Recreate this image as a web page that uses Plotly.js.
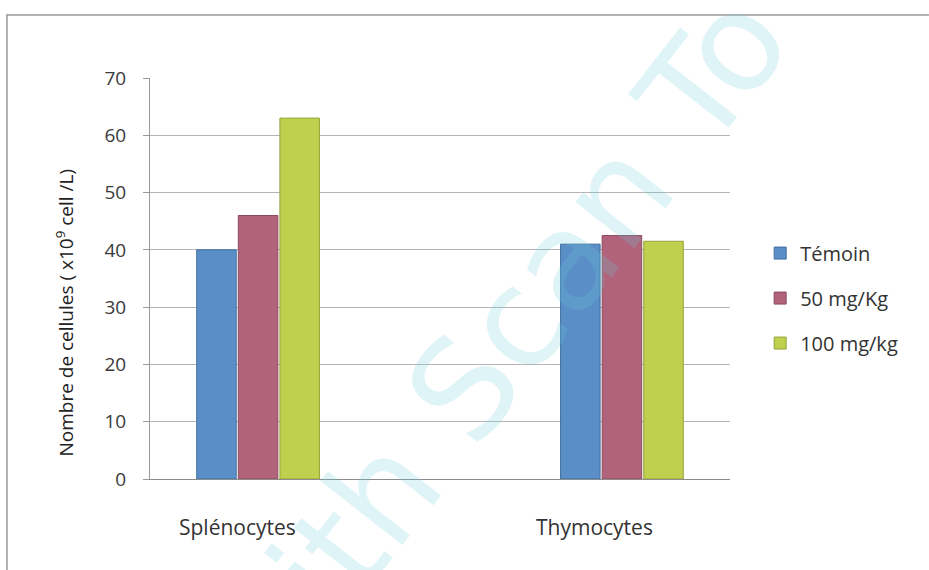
<!DOCTYPE html>
<html>
<head>
<meta charset="utf-8">
<script src="https://cdn.plot.ly/plotly-3.0.1.min.js"></script>
<style>html,body{margin:0;padding:0;background:#fff;}#chart{width:929px;height:570px;}</style>
</head>
<body>
<div id="chart"></div>
<script>
var categories = ["Splénocytes", "Thymocytes"];
var seriesNames = ["Témoin", "50 mg/Kg", "100 mg/kg"];
var temoin = [40, 41];
var dose50 = [46, 42.5];
var dose100 = [63, 41.5];
var yTicks = [0, 10, 20, 30, 40, 50, 60, 70];
var yTitle = "Nombre de cellules ( x10<sup>9</sup> cell /L)";
var watermark = "with Scan To";

var colors = ["#5a8ec6", "#b0637a", "#bfcf4e"];
var lineColors = ["#3f6f9f", "#8c4a5c", "#97a33a"];
var values = [temoin, dose50, dose100];
var FONT = "'Open Sans', Lato, sans-serif";

var traces = values.map(function(v, i){
  return {
    type: "bar",
    name: seriesNames[i],
    x: categories,
    y: v,
    legendgroup: "g" + i,
    marker: {color: colors[i], line: {color: lineColors[i], width: 1}},
    hoverinfo: "x+y+name"
  };
});

var annotations = categories.map(function(c, i){
  return {
    x: c, y: 0, xref: "x", yref: "y",
    text: c, showarrow: false,
    xanchor: "center", yanchor: "middle",
    xshift: i === 0 ? -21 : -27, yshift: -48,
    font: {family: FONT, size: 21, color: "#333"}
  };
});
annotations.push({
  x: -0.1466, y: 0.415, xref: "paper", yref: "paper",
  xanchor: "center", yanchor: "middle",
  text: yTitle, textangle: -90, showarrow: false,
  font: {family: FONT, size: 19, color: "#222"}
});
annotations.push({
  x: 0.595, y: 0.322, xref: "paper", yref: "paper",
  xanchor: "center", yanchor: "middle",
  text: watermark, textangle: -52, showarrow: false,
  font: {family: "'DejaVu Sans', sans-serif", size: 137, color: "rgba(110,205,220,0.22)"}
});

var layout = {
  width: 929, height: 570,
  margin: {l: 150, r: 199, t: 78, b: 91},
  paper_bgcolor: "#ffffff",
  plot_bgcolor: "#ffffff",
  barmode: "group",
  bargap: 0.657,
  bargroupgap: 0.05,
  showlegend: true,
  legend: {
    x: 1.052, y: 0.612, xanchor: "left", yanchor: "top",
    tracegroupgap: 16,
    font: {family: FONT, size: 20, color: "#333"},
    bgcolor: "rgba(0,0,0,0)"
  },
  xaxis: {
    type: "category",
    range: [-0.297, 1.297],
    showticklabels: false,
    showline: true, linecolor: "#8c8c8c", linewidth: 1,
    ticks: "", showgrid: false, zeroline: false
  },
  yaxis: {
    range: [0, 70],
    tickvals: yTicks,
    ticktext: yTicks.map(String),
    showline: true, linecolor: "#9a9a9a", linewidth: 1,
    ticks: "outside", ticklen: 6, tickcolor: "#9a9a9a",
    ticklabelstandoff: 13,
    showgrid: true, gridcolor: "#b5b5b5", gridwidth: 1,
    zeroline: false,
    tickfont: {family: FONT, size: 19, color: "#3a3a3a"}
  },
  shapes: [
    {type: "line", xref: "paper", yref: "paper", x0: -0.248, x1: 1.343, y0: 1.157, y1: 1.157, line: {color: "#999", width: 1.5}},
    {type: "line", xref: "paper", yref: "paper", x0: -0.2466, x1: -0.2466, y0: 1.157, y1: -0.23, line: {color: "#999", width: 1.5}}
  ],
  annotations: annotations
};

Plotly.newPlot("chart", traces, layout, {displayModeBar: false, staticPlot: true});
</script>
</body>
</html>
